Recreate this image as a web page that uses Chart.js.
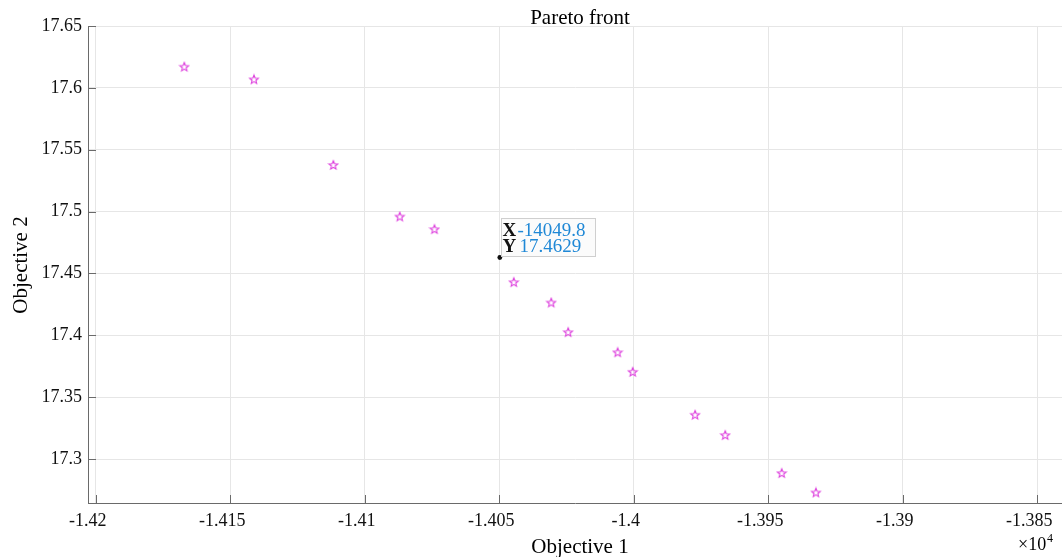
<!DOCTYPE html>
<html lang="en">
<head>
    <meta charset="UTF-8">
    <title>Pareto front</title>
    <style>
        body {
            margin: 0;
            padding: 0;
            background-color: #fff;
        }
        #wrap {
            width: 1062px;
            height: 557px;
        }
    </style>
    <script src="https://cdn.jsdelivr.net/npm/chart.js"></script>
</head>
<body>
    <div id="wrap">
        <canvas id="paretoChart" width="1062" height="557"></canvas>
    </div>
    <script>
        // Pareto points (objective 1 in real units, labels shown x 1e-4)
        const obj1 = [-14167.1, -14141.2, -14111.7, -14087.0, -14074.1, -14044.6, -14030.7,
                      -14024.4, -14006.0, -14000.4, -13977.2, -13966.0, -13945.0, -13932.3];
        const obj2 = [17.6171, 17.6069, 17.5377, 17.4960, 17.4858, 17.4430, 17.4265,
                      17.4026, 17.3863, 17.3705, 17.3358, 17.3194, 17.2887, 17.2730];

        // data tip
        const tipX = [-14049.8];
        const tipY = [17.4629];

        const xTicks = [-14200, -14150, -14100, -14050, -14000, -13950, -13900, -13850];
        const xTickLabels = ['-1.42', '-1.415', '-1.41', '-1.405', '-1.4', '-1.395', '-1.39', '-1.385'];
        const yTicks = [17.3, 17.35, 17.4, 17.45, 17.5, 17.55, 17.6, 17.65];
        const yTickLabels = ['17.3', '17.35', '17.4', '17.45', '17.5', '17.55', '17.6', '17.65'];

        const serif = '"Liberation Serif", "DejaVu Serif", serif';
        const noPad = () => ({ left: 0, top: 0, right: 0, bottom: 0 });

        // five point star marker
        function makeStar(color) {
            const c = document.createElement('canvas');
            c.width = 12;
            c.height = 12;
            const g = c.getContext('2d');
            g.strokeStyle = color;
            g.lineWidth = 1.1;
            g.beginPath();
            for (let i = 0; i < 10; i++) {
                const r = i % 2 === 0 ? 4.6 : 2.0;
                const a = -Math.PI / 2 + i * Math.PI / 5;
                const px = 6 + r * Math.cos(a);
                const py = 6.4 + r * Math.sin(a);
                if (i === 0) g.moveTo(px, py); else g.lineTo(px, py);
            }
            g.closePath();
            g.stroke();
            return c;
        }

        const annot = {
            id: 'annot',
            afterDraw(chart) {
                const ctx = chart.ctx;
                const xs = chart.scales.x;
                const ys = chart.scales.y;
                const a = chart.chartArea;
                ctx.save();

                // inward tick marks
                ctx.strokeStyle = '#6a6a6a';
                ctx.lineWidth = 1;
                xTicks.forEach(v => {
                    const px = Math.round(xs.getPixelForValue(v)) + 0.5;
                    ctx.beginPath();
                    ctx.moveTo(px, a.bottom);
                    ctx.lineTo(px, a.bottom - 8);
                    ctx.stroke();
                });
                yTicks.forEach(v => {
                    const py = Math.round(ys.getPixelForValue(v)) + 0.5;
                    ctx.beginPath();
                    ctx.moveTo(a.left, py);
                    ctx.lineTo(a.left + 8, py);
                    ctx.stroke();
                });

                // titles
                ctx.fillStyle = '#000';
                ctx.textAlign = 'center';
                ctx.textBaseline = 'alphabetic';
                ctx.font = '21px ' + serif;
                ctx.fillText('Pareto front', 580, 24);
                ctx.fillText('Objective 1', 580, 553);
                ctx.save();
                ctx.translate(27, 265);
                ctx.rotate(-Math.PI / 2);
                ctx.fillText('Objective 2', 0, 0);
                ctx.restore();

                // exponent
                ctx.textAlign = 'left';
                ctx.font = '18px ' + serif;
                ctx.fillText('\u00d710', 1018, 550);
                ctx.font = '12px ' + serif;
                ctx.fillText('4', 1047, 542);

                // data tip box
                const dx = xs.getPixelForValue(tipX[0]);
                const dy = ys.getPixelForValue(tipY[0]);
                const bx = Math.round(dx) + 1.5;
                const by = Math.round(dy) - 39.5;
                ctx.fillStyle = '#fbfbfb';
                ctx.strokeStyle = '#cfcfcf';
                ctx.lineWidth = 1;
                ctx.fillRect(bx, by, 94, 38);
                ctx.strokeRect(bx, by, 94, 38);

                ctx.font = 'bold 19px ' + serif;
                ctx.fillStyle = '#111';
                ctx.fillText('X', bx + 1, by + 17);
                ctx.fillText('Y', bx + 1, by + 33);
                ctx.font = '19px ' + serif;
                ctx.fillStyle = '#1f88d6';
                ctx.fillText(tipX[0].toFixed(1), bx + 16, by + 17);
                ctx.fillText(tipY[0].toFixed(4), bx + 18, by + 33);

                ctx.restore();
            }
        };

        const ctx = document.getElementById('paretoChart').getContext('2d');
        new Chart(ctx, {
            type: 'scatter',
            data: {
                datasets: [{
                    label: 'Pareto',
                    data: obj1.map((x, i) => ({ x: x, y: obj2[i] })),
                    pointStyle: makeStar('#dd3ddd'),
                    pointRadius: 5,
                    borderColor: '#dd3ddd'
                }, {
                    label: 'tip',
                    data: tipX.map((x, i) => ({ x: x, y: tipY[i] })),
                    pointStyle: 'circle',
                    pointRadius: 2.4,
                    backgroundColor: '#111',
                    borderColor: '#111',
                    borderWidth: 0
                }]
            },
            options: {
                responsive: false,
                animation: false,
                events: [],
                layout: {
                    autoPadding: false,
                    padding: { top: 26, right: 0, left: 0, bottom: 0 }
                },
                plugins: {
                    legend: { display: false },
                    title: { display: false },
                    tooltip: { enabled: false }
                },
                scales: {
                    x: {
                        type: 'linear',
                        min: -14202.9,
                        max: -13840.8,
                        afterBuildTicks: s => { s.ticks = xTicks.map(v => ({ value: v })); },
                        afterFit: s => {
                            s.height = 54;
                            s.paddingLeft = 0;
                            s.paddingRight = 0;
                            s.getPadding = noPad;
                        },
                        border: { display: true, color: '#6a6a6a', width: 1 },
                        grid: { color: '#e6e6e6', drawTicks: false },
                        ticks: {
                            color: '#111',
                            font: { family: serif, size: 18 },
                            padding: 7,
                            labelOffset: -8,
                            maxRotation: 0,
                            autoSkip: false,
                            callback: (v, i) => xTickLabels[i]
                        }
                    },
                    y: {
                        type: 'linear',
                        min: 17.26451,
                        max: 17.65,
                        afterBuildTicks: s => { s.ticks = yTicks.map(v => ({ value: v })); },
                        afterFit: s => {
                            s.width = 88;
                            s.getPadding = noPad;
                        },
                        border: { display: true, color: '#6a6a6a', width: 1 },
                        grid: { color: '#e6e6e6', drawTicks: false },
                        ticks: {
                            color: '#111',
                            font: { family: serif, size: 18 },
                            padding: 6,
                            autoSkip: false,
                            callback: (v, i) => yTickLabels[i]
                        }
                    }
                }
            },
            plugins: [annot]
        });
    </script>
</body>
</html>
